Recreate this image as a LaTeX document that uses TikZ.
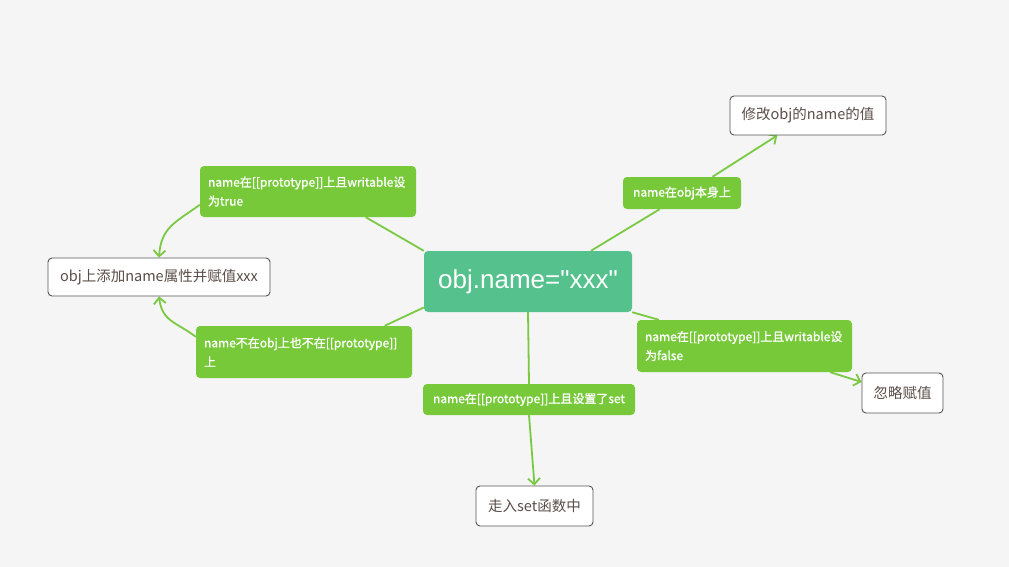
\documentclass[tikz,border=0pt]{standalone}
\usepackage{fontspec}
\defaultfontfeatures{}
\setmainfont{Noto Sans CJK SC}
\newfontfamily\lblfont{Noto Sans CJK SC}[FakeBold=1.2]
\newfontfamily\ctrfont{Liberation Sans}
\usetikzlibrary{arrows.meta,calc,backgrounds}
\definecolor{bg}{HTML}{F5F5F5}
\definecolor{lbl}{HTML}{77C93A}
\definecolor{lnk}{HTML}{7AC943}
\definecolor{ctr}{HTML}{55C18C}
\definecolor{txt}{HTML}{5A4E49}
\definecolor{brd}{HTML}{555555}
\tikzset{
  ctrbox/.style={fill=ctr, rounded corners=4pt, text=white, inner sep=0pt,
    font=\ctrfont\fontsize{26}{28}\selectfont},
  leafbox/.style={fill=white, draw=brd, line width=0.9pt, rounded corners=4pt, text=txt,
    inner sep=0pt, font=\fontsize{14.5}{16}\selectfont},
  lblbox/.style={fill=lbl, rounded corners=4pt, text=white, inner sep=0pt,
    font=\lblfont\fontsize{12}{19}\selectfont},
  conn/.style={draw=lnk, line width=1.8pt},
  arr/.style={conn, -{Straight Barb[length=6pt,width=12pt,line width=1.8pt]}}
}
\begin{document}
\begin{tikzpicture}[x=1pt,y=-1pt]
% nodes
\node[ctrbox, minimum width=208pt, minimum height=61pt] (c) at (528,281.5) {obj.name="xxx"};
\node[leafbox, minimum width=222pt, minimum height=38pt] (l) at (159,277) {obj上添加name属性并赋值xxx};
\node[leafbox, minimum width=156pt, minimum height=39pt] (tr) at (808,115.5) {修改obj的name的值};
\node[leafbox, minimum width=81pt, minimum height=40pt] (ig) at (902.5,393) {忽略赋值};
\node[leafbox, minimum width=117pt, minimum height=40pt] (st) at (534.5,506) {走入set函数中};
\node[lblbox, minimum width=216pt, minimum height=51pt, text width=200pt, align=left] (L1) at (308,191.5) {name在[[prototype]]上且writable设\\为true};
\node[lblbox, minimum width=216pt, minimum height=52pt, text width=200pt, align=left] (L2) at (304,352) {name不在obj上也不在[[prototype]]\\上};
\node[lblbox, minimum width=118pt, minimum height=32pt] (L3) at (682,193) {name在obj本身上};
\node[lblbox, minimum width=215pt, minimum height=52pt, text width=199pt, align=left] (L4) at (744.5,346) {name在[[prototype]]上且writable设\\为false};
\node[lblbox, minimum width=212pt, minimum height=31pt] (L5) at (529,399.5) {name在[[prototype]]上且设置了set};
% connectors
\begin{scope}[on background layer]
\path[fill=bg] (0,0) rectangle (1009,567);
\draw[conn] (c.north west) -- (L1.-24);
\draw[arr] (L1.187) .. controls +(-25,18) and +(2,-30) .. (l.north);
\draw[conn] (c.194) -- (L2.18);
\draw[arr] (L2.172) .. controls +(-20,-15) and +(3,25) .. (l.south);
\draw[conn] (c.26) -- (L3.216);
\draw[arr] (L3.28) -- (tr.213);
\draw[conn] (c.south east) -- (L4.163);
\draw[arr] (L4.-17) -- (ig.165);
\draw[conn] (c.south) -- (L5.north);
\draw[arr] (L5.south) -- (st.north);
\end{scope}
\end{tikzpicture}
\end{document}
